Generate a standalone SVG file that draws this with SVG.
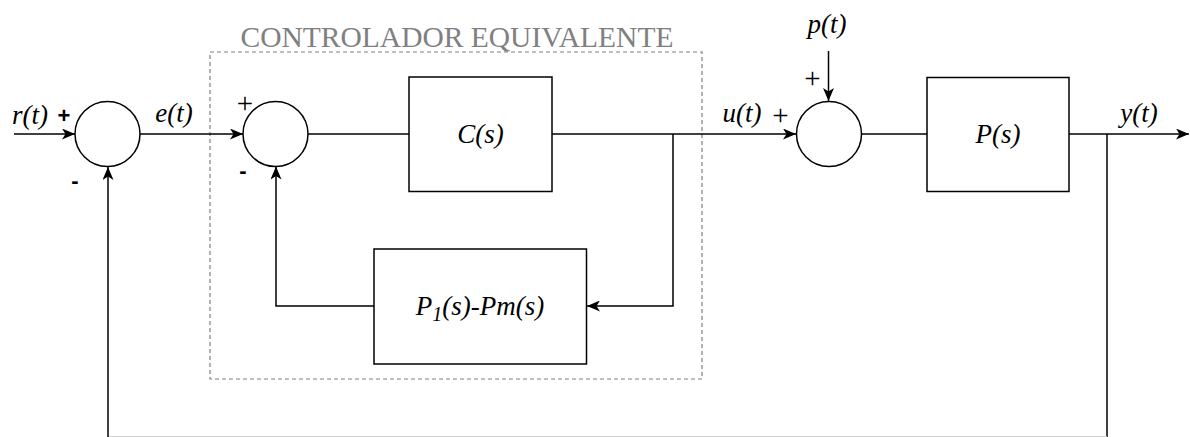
<svg xmlns="http://www.w3.org/2000/svg" width="1190" height="437" viewBox="0 0 1190 437">
<defs>
<style>
.ln{fill:none;stroke:#000;stroke-width:1.5}
.blk{fill:#fff;stroke:#000;stroke-width:1.5}
.lbl{font-family:"Liberation Serif","Times New Roman",serif;font-style:italic;font-size:27px;fill:#000}
.sg{font-family:"Liberation Serif","Times New Roman",serif;font-size:29px;fill:#000}
.sb{font-family:"Liberation Sans",Arial,sans-serif;font-weight:bold;font-size:22px;fill:#000}
</style>
<marker id="arr" viewBox="0 0 13 11" refX="13" refY="5.5" markerWidth="13" markerHeight="11" markerUnits="userSpaceOnUse" orient="auto">
<path d="M0,0 L13,5.5 L0,11 L3.5,5.5 Z" fill="#000"/>
</marker>
</defs>
<rect width="1190" height="437" fill="#fff"/>
<g id="controlador">
<rect x="210" y="52" width="492" height="327" fill="none" stroke="#808080" stroke-width="1.2" stroke-dasharray="4 3"/>
<text x="457" y="47" text-anchor="middle" font-family="'Liberation Serif','Times New Roman',serif" font-size="29.5" fill="#808080">CONTROLADOR EQUIVALENTE</text>
</g>
<g id="connectors">
<line class="ln" x1="14" y1="134" x2="75" y2="134" marker-end="url(#arr)"/>
<line class="ln" x1="140" y1="134" x2="243" y2="134" marker-end="url(#arr)"/>
<line class="ln" x1="308" y1="134" x2="409" y2="134"/>
<line class="ln" x1="552" y1="134" x2="796" y2="134" marker-end="url(#arr)"/>
<polyline class="ln" points="673,134 673,306 587,306" marker-end="url(#arr)"/>
<polyline class="ln" points="374,306 276,306 276,166.5" marker-end="url(#arr)"/>
<line class="ln" x1="828.5" y1="51" x2="828.5" y2="101" marker-end="url(#arr)"/>
<line class="ln" x1="862" y1="134" x2="927" y2="134"/>
<line class="ln" x1="1069" y1="134" x2="1189" y2="134" marker-end="url(#arr)"/>
<line class="ln" x1="1107" y1="134" x2="1107" y2="437"/>
<line x1="108" y1="436.5" x2="1107" y2="436.5" stroke="#cfcfcf" stroke-width="1"/>
<line class="ln" x1="108" y1="437" x2="108" y2="167" marker-end="url(#arr)"/>
</g>
<g id="sum1">
<circle class="blk" cx="107.5" cy="134" r="32.5"/>
<text class="sb" x="64" y="123" text-anchor="middle">+</text>
<text class="sb" x="75" y="188" text-anchor="middle">-</text>
</g>
<g id="sum2">
<circle class="blk" cx="275.5" cy="134" r="32.5"/>
<text class="sg" x="245" y="113" text-anchor="middle">+</text>
<text class="sb" x="243" y="178" text-anchor="middle">-</text>
</g>
<g id="sum3">
<circle class="blk" cx="829" cy="134" r="32.5"/>
<text class="sg" x="812.5" y="88" text-anchor="middle">+</text>
<text class="sg" x="780.5" y="125" text-anchor="middle">+</text>
</g>
<g id="C">
<rect class="blk" x="409" y="77" width="143" height="114.5"/>
<text class="lbl" x="480.5" y="143" text-anchor="middle">C(s)</text>
</g>
<g id="P">
<rect class="blk" x="927" y="77.5" width="142" height="114"/>
<text class="lbl" x="998" y="143" text-anchor="middle">P(s)</text>
</g>
<g id="P1Pm">
<rect class="blk" x="374" y="249" width="212.5" height="115"/>
<text class="lbl" x="480" y="315" text-anchor="middle">P<tspan font-size="20" dy="6">1</tspan><tspan dy="-6">(s)-Pm(s)</tspan></text>
</g>
<g id="labels">
<text class="lbl" x="30" y="124" text-anchor="middle">r(t)</text>
<text class="lbl" x="174" y="122" text-anchor="middle">e(t)</text>
<text class="lbl" x="742" y="122" text-anchor="middle">u(t)</text>
<text class="lbl" x="827" y="33" text-anchor="middle">p(t)</text>
<text class="lbl" x="1139" y="122" text-anchor="middle">y(t)</text>
</g>
</svg>
